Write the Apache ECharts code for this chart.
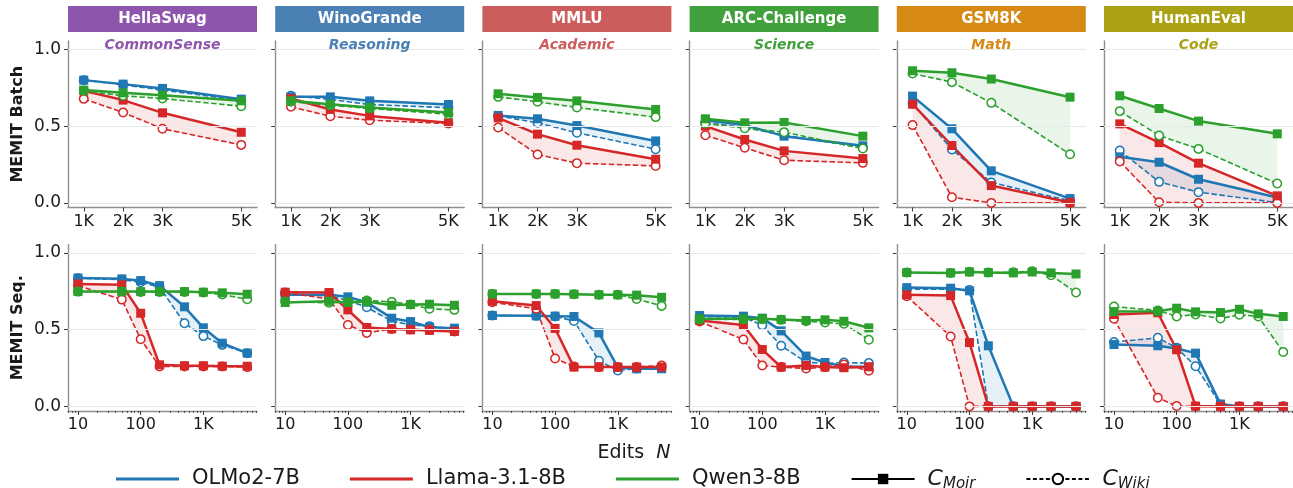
<!DOCTYPE html>
<html>
<head>
<meta charset="utf-8">
<title>MEMIT editing: C_Moir vs C_Wiki</title>
<script src="https://cdn.jsdelivr.net/npm/echarts@6/dist/echarts.min.js"></script>
<style>
  html, body { margin: 0; padding: 0; background: #ffffff; }
  #chart { width: 1293px; height: 488px; }
</style>
</head>
<body>
<div id="chart"></div>
<script>
// ---- categories / axes ----
const benchmarks = ['HellaSwag', 'WinoGrande', 'MMLU', 'ARC-Challenge', 'GSM8K', 'HumanEval'];
const domains = ['CommonSense', 'Reasoning', 'Academic', 'Science', 'Math', 'Code'];
const benchColors = ['#8e55ad', '#4b80b5', '#cd5c5c', '#40a03b', '#d68a14', '#aba114'];
const batchEdits = [1000, 2000, 3000, 5000];
const seqEdits = [10, 50, 100, 200, 500, 1000, 2000, 5000];
const batchTicks = [1000, 2000, 3000, 5000];
const seqTicks = [10, 100, 1000];
const seqMinorTicks = [7, 8, 9, 20, 30, 40, 50, 60, 70, 80, 90, 200, 300, 400, 500, 600, 700, 800, 900,
  2000, 3000, 4000, 5000, 6000, 7000];
const scoreTicks = [0, 0.5, 1];
const models = ['OLMo2-7B', 'Llama-3.1-8B', 'Qwen3-8B'];
const modelColors = ['#1f77b4', '#d62728', '#2ca02c'];
const rowNames = ['MEMIT Batch', 'MEMIT Seq.'];

// ---- MEMIT Batch scores (one row per benchmark, columns follow batchEdits) ----
const olmoBatchMoir = [
  [0.800, 0.774, 0.746, 0.676],
  [0.691, 0.691, 0.665, 0.641],
  [0.570, 0.548, 0.504, 0.404],
  [0.539, 0.507, 0.435, 0.372],
  [0.696, 0.483, 0.209, 0.028],
  [0.300, 0.265, 0.154, 0.035]
];
const olmoBatchWiki = [
  [0.800, 0.770, 0.735, 0.668],
  [0.698, 0.674, 0.641, 0.620],
  [0.567, 0.522, 0.457, 0.350],
  [0.522, 0.491, 0.441, 0.361],
  [0.648, 0.348, 0.133, 0.013],
  [0.341, 0.137, 0.070, 0.002]
];
const llamaBatchMoir = [
  [0.730, 0.670, 0.587, 0.460],
  [0.680, 0.609, 0.567, 0.522],
  [0.554, 0.448, 0.376, 0.285],
  [0.500, 0.413, 0.339, 0.289],
  [0.643, 0.374, 0.113, 0.002],
  [0.515, 0.393, 0.259, 0.046]
];
const llamaBatchWiki = [
  [0.678, 0.589, 0.483, 0.378],
  [0.626, 0.565, 0.539, 0.517],
  [0.491, 0.315, 0.259, 0.241],
  [0.441, 0.359, 0.278, 0.261],
  [0.507, 0.037, 0.000, 0.000],
  [0.270, 0.004, 0.000, 0.000]
];
const qwenBatchMoir = [
  [0.735, 0.717, 0.702, 0.665],
  [0.665, 0.643, 0.622, 0.589],
  [0.711, 0.687, 0.665, 0.609],
  [0.548, 0.522, 0.524, 0.435],
  [0.861, 0.848, 0.807, 0.689],
  [0.698, 0.615, 0.533, 0.450]
];
const qwenBatchWiki = [
  [0.730, 0.698, 0.680, 0.630],
  [0.659, 0.637, 0.615, 0.578],
  [0.691, 0.659, 0.622, 0.559],
  [0.517, 0.487, 0.461, 0.354],
  [0.843, 0.787, 0.652, 0.317],
  [0.598, 0.439, 0.352, 0.126]
];

// ---- MEMIT Sequential scores (columns follow seqEdits) ----
const olmoSeqMoir = [
  [0.837, 0.831, 0.820, 0.787, 0.649, 0.512, 0.412, 0.347],
  [0.727, 0.727, 0.714, 0.679, 0.575, 0.553, 0.516, 0.510],
  [0.592, 0.590, 0.588, 0.586, 0.479, 0.254, 0.245, 0.245],
  [0.592, 0.588, 0.575, 0.492, 0.328, 0.286, 0.260, 0.256],
  [0.774, 0.770, 0.753, 0.395, 0.000, 0.000, 0.000, 0.000],
  [0.403, 0.395, 0.377, 0.347, 0.015, 0.000, 0.000, 0.000]
];
const olmoSeqWiki = [
  [0.835, 0.826, 0.809, 0.777, 0.542, 0.458, 0.401, 0.347],
  [0.733, 0.720, 0.690, 0.646, 0.555, 0.531, 0.523, 0.505],
  [0.592, 0.590, 0.586, 0.557, 0.297, 0.234, 0.247, 0.252],
  [0.586, 0.581, 0.529, 0.395, 0.289, 0.278, 0.286, 0.282],
  [0.764, 0.764, 0.759, 0.000, 0.000, 0.000, 0.000, 0.000],
  [0.419, 0.447, 0.382, 0.262, 0.013, 0.000, 0.000, 0.000]
];
const llamaSeqMoir = [
  [0.798, 0.792, 0.607, 0.271, 0.265, 0.265, 0.262, 0.262],
  [0.744, 0.742, 0.629, 0.514, 0.505, 0.499, 0.495, 0.488],
  [0.685, 0.657, 0.508, 0.256, 0.256, 0.256, 0.256, 0.256],
  [0.560, 0.531, 0.371, 0.256, 0.267, 0.256, 0.252, 0.258],
  [0.727, 0.722, 0.416, 0.000, 0.000, 0.000, 0.000, 0.000],
  [0.599, 0.610, 0.369, 0.002, 0.000, 0.000, 0.000, 0.000]
];
const llamaSeqWiki = [
  [0.787, 0.696, 0.438, 0.260, 0.260, 0.260, 0.260, 0.256],
  [0.742, 0.700, 0.531, 0.479, 0.505, 0.501, 0.499, 0.488],
  [0.679, 0.636, 0.312, 0.260, 0.256, 0.256, 0.256, 0.267],
  [0.553, 0.436, 0.267, 0.256, 0.247, 0.256, 0.273, 0.232],
  [0.718, 0.456, 0.000, 0.000, 0.000, 0.000, 0.000, 0.000],
  [0.571, 0.056, 0.002, 0.000, 0.000, 0.000, 0.000, 0.000]
];
const qwenSeqMoir = [
  [0.748, 0.748, 0.748, 0.748, 0.748, 0.744, 0.740, 0.731],
  [0.677, 0.685, 0.677, 0.683, 0.659, 0.664, 0.666, 0.659],
  [0.733, 0.733, 0.733, 0.731, 0.727, 0.727, 0.725, 0.711],
  [0.571, 0.571, 0.571, 0.566, 0.560, 0.564, 0.555, 0.512],
  [0.872, 0.870, 0.876, 0.872, 0.870, 0.876, 0.870, 0.863],
  [0.618, 0.620, 0.640, 0.616, 0.612, 0.633, 0.603, 0.586]
];
const qwenSeqWiki = [
  [0.748, 0.748, 0.746, 0.746, 0.746, 0.742, 0.729, 0.698],
  [0.683, 0.675, 0.681, 0.690, 0.681, 0.664, 0.636, 0.629],
  [0.733, 0.733, 0.733, 0.731, 0.727, 0.727, 0.700, 0.655],
  [0.566, 0.566, 0.568, 0.564, 0.555, 0.547, 0.538, 0.434],
  [0.872, 0.870, 0.878, 0.872, 0.874, 0.881, 0.855, 0.742],
  [0.651, 0.625, 0.586, 0.599, 0.573, 0.597, 0.586, 0.354]
];

// ---- layout ----
const FONT = 'DejaVu Sans';
const gridLefts = [68, 275.2, 482.4, 689.6, 896.8, 1104];
const gridWidth = 189;
const rowTops = [41, 244.5];
const rowHeight = 166.5;
const yMin = -0.03, yMax = 1.055;
const batchRange = [600, 5400];
const seqRange = [6.93, 7160];

const runs = [
  { moir: [olmoBatchMoir, llamaBatchMoir, qwenBatchMoir], wiki: [olmoBatchWiki, llamaBatchWiki, qwenBatchWiki], x: batchEdits },
  { moir: [olmoSeqMoir, llamaSeqMoir, qwenSeqMoir], wiki: [olmoSeqWiki, llamaSeqWiki, qwenSeqWiki], x: seqEdits }
];

function rgba(hex, a) {
  const n = parseInt(hex.slice(1), 16);
  return `rgba(${(n >> 16) & 255},${(n >> 8) & 255},${n & 255},${a})`;
}
const fmtEdits = v => (v >= 1000 ? (v / 1000) + 'K' : String(v));

// band between the C_Moir curve and the C_Wiki curve, placed through the axes
function gapBand(xs, moir, wiki, fill) {
  return function (params, api) {
    const upper = xs.map((x, i) => api.coord([x, moir[i]]));
    const lower = xs.map((x, i) => api.coord([x, wiki[i]])).reverse();
    return { type: 'polygon', shape: { points: upper.concat(lower) }, style: { fill: fill }, silent: true };
  };
}

const grids = [], xAxes = [], yAxes = [], series = [], graphics = [];

for (let r = 0; r < 2; r++) {
  for (let c = 0; c < 6; c++) {
    const g = grids.length;
    grids.push({ left: gridLefts[c], top: rowTops[r], width: gridWidth, height: rowHeight, containLabel: false });

    const axisLine = { show: true, onZero: false, lineStyle: { color: '#8f8f8f', width: 1.4 } };
    const tickStyle = { color: '#3a3a3a', width: 1 };
    const labelStyle = { color: '#1a1a1a', fontFamily: FONT, fontSize: 16 };

    if (r === 0) {
      xAxes.push({
        gridIndex: g, type: 'value', min: batchRange[0], max: batchRange[1], position: 'bottom',
        axisLine, splitLine: { show: false },
        axisTick: { show: true, length: 4, lineStyle: tickStyle, customValues: batchTicks },
        axisLabel: { ...labelStyle, margin: 6, customValues: batchTicks, formatter: fmtEdits }
      });
    } else {
      xAxes.push({
        gridIndex: g, type: 'log', logBase: 10, min: seqRange[0], max: seqRange[1], position: 'bottom',
        axisLine, splitLine: { show: false },
        axisTick: { show: true, length: 4, lineStyle: tickStyle, customValues: seqTicks },
        axisLabel: { ...labelStyle, margin: 6, customValues: seqTicks, formatter: fmtEdits }
      });
    }
    const xIndex = xAxes.length - 1;
    if (r === 1) {
      // minor ticks of the log axis
      xAxes.push({
        gridIndex: g, type: 'log', logBase: 10, min: seqRange[0], max: seqRange[1], position: 'bottom',
        axisLine: { show: false, onZero: false }, splitLine: { show: false },
        axisTick: { show: true, length: 2, lineStyle: { color: '#3a3a3a', width: 0.8 }, customValues: seqMinorTicks },
        axisLabel: { show: false }
      });
    }

    yAxes.push({
      gridIndex: g, type: 'value', min: yMin, max: yMax,
      axisLine: { show: true, onZero: false, lineStyle: { color: '#8f8f8f', width: 1.4 } },
      splitLine: { show: false },
      axisTick: { show: true, length: 4, lineStyle: tickStyle, customValues: scoreTicks },
      axisLabel: { show: c === 0, color: '#1a1a1a', fontFamily: FONT, fontSize: 17, margin: 7,
        customValues: scoreTicks, formatter: v => v.toFixed(1) },
      name: c === 0 ? rowNames[r] : '',
      nameLocation: 'middle', nameGap: 42,
      nameTextStyle: { fontFamily: FONT, fontSize: 16, fontWeight: 'bold', color: '#1a1a1a' }
    });

    // horizontal reference lines
    series.push({
      type: 'line', xAxisIndex: xIndex, yAxisIndex: g, data: [], silent: true, z: 0,
      markLine: {
        silent: true, symbol: ['none', 'none'], label: { show: false }, animation: false,
        lineStyle: { color: '#e8e8e8', width: 1, type: 'solid' },
        data: scoreTicks.map(v => ({ yAxis: v }))
      }
    });

    const run = runs[r];
    // shaded gap between C_Moir and C_Wiki
    for (let m = 0; m < 3; m++) {
      const moir = run.moir[m][c], wiki = run.wiki[m][c];
      series.push({
        type: 'custom', xAxisIndex: xIndex, yAxisIndex: g, silent: true, z: 1, clip: true,
        data: [[run.x[0], moir[0]]],
        renderItem: gapBand(run.x, moir, wiki, rgba(modelColors[m], 0.11))
      });
    }
    // C_Wiki (dashed, open circles) and C_Moir (solid, squares)
    for (let m = 0; m < 3; m++) {
      const col = modelColors[m];
      series.push({
        name: `${models[m]} ${benchmarks[c]} ${rowNames[r]} C_Wiki`,
        type: 'line', xAxisIndex: xIndex, yAxisIndex: g, z: 2, silent: true,
        symbol: 'circle', symbolSize: 8.5,
        itemStyle: { color: '#ffffff', borderColor: col, borderWidth: 1.5 },
        lineStyle: { color: col, width: 1.6, type: [5.5, 2.5] },
        data: run.x.map((x, i) => [x, run.wiki[m][c][i]])
      });
      series.push({
        name: `${models[m]} ${benchmarks[c]} ${rowNames[r]} C_Moir`,
        type: 'line', xAxisIndex: xIndex, yAxisIndex: g, z: 2, silent: true,
        symbol: 'rect', symbolSize: 9,
        itemStyle: { color: col },
        lineStyle: { color: col, width: 2.5 },
        data: run.x.map((x, i) => [x, run.moir[m][c][i]])
      });
    }

    if (r === 0) {
      // benchmark banner and domain caption
      graphics.push({
        type: 'rect', shape: { x: gridLefts[c], y: 6, width: gridWidth, height: 26 },
        style: { fill: benchColors[c] }, silent: true
      });
      graphics.push({
        type: 'text', x: gridLefts[c] + gridWidth / 2, y: 19,
        style: { text: benchmarks[c], fill: '#ffffff', font: `bold 15px "${FONT}"`, align: 'center', verticalAlign: 'middle' },
        silent: true
      });
      graphics.push({
        type: 'text', x: gridLefts[c] + gridWidth / 2, y: 45, z: 10,
        style: { text: domains[c], fill: benchColors[c], font: `italic bold 14px "${FONT}"`, align: 'center', verticalAlign: 'middle' },
        silent: true
      });
    }
  }
}

// legend carriers
const lineIcon = 'path://M0,0 L60,0 L60,3 L0,3 Z';
models.forEach((name, m) => {
  series.push({ name, type: 'line', xAxisIndex: 0, yAxisIndex: 0, data: [], symbol: 'none',
    itemStyle: { color: modelColors[m] }, lineStyle: { color: modelColors[m], width: 3 } });
});
series.push({ name: 'C_Moir', type: 'line', xAxisIndex: 0, yAxisIndex: 0, data: [], symbol: 'rect',
  itemStyle: { color: '#000' }, lineStyle: { color: '#000', width: 2.5 } });
series.push({ name: 'C_Wiki', type: 'line', xAxisIndex: 0, yAxisIndex: 0, data: [], symbol: 'circle',
  itemStyle: { color: '#fff', borderColor: '#000', borderWidth: 1.4 }, lineStyle: { color: '#000', width: 1.5, type: [4, 2.5] } });
const legendData = models.map(name => ({ name, icon: lineIcon })).concat([{ name: 'C_Moir' }, { name: 'C_Wiki' }]);

graphics.push({
  type: 'text', x: 634, y: 453,
  style: {
    text: '{a|Edits  }{b|N}', align: 'center', verticalAlign: 'middle',
    rich: {
      a: { fontFamily: FONT, fontSize: 19, fill: '#1a1a1a' },
      b: { fontFamily: FONT, fontSize: 19, fontStyle: 'italic', fill: '#1a1a1a' }
    }
  },
  silent: true
});

const chart = echarts.init(document.getElementById('chart'), null, { renderer: 'canvas' });
chart.setOption({
  animation: false,
  backgroundColor: '#ffffff',
  grid: grids,
  xAxis: xAxes,
  yAxis: yAxes,
  series,
  legend: {
    data: legendData,
    selectedMode: false,
    left: 116, top: 468, padding: 0,
    itemWidth: 63, itemHeight: 13, itemGap: 50,
    textStyle: {
      fontFamily: FONT, fontSize: 21, color: '#1a1a1a', padding: [0, 0, 0, 8],
      rich: {
        c: { fontFamily: FONT, fontSize: 22, fontStyle: 'italic', color: '#1a1a1a', lineHeight: 26 },
        s: { fontFamily: FONT, fontSize: 15, fontStyle: 'italic', color: '#1a1a1a', lineHeight: 12, verticalAlign: 'bottom' }
      }
    },
    formatter: name => {
      if (name === 'C_Moir') return '{c|C}{s|Moir}';
      if (name === 'C_Wiki') return '{c|C}{s|Wiki}';
      return name;
    }
  },
  graphic: { elements: graphics }
});
</script>
</body>
</html>
